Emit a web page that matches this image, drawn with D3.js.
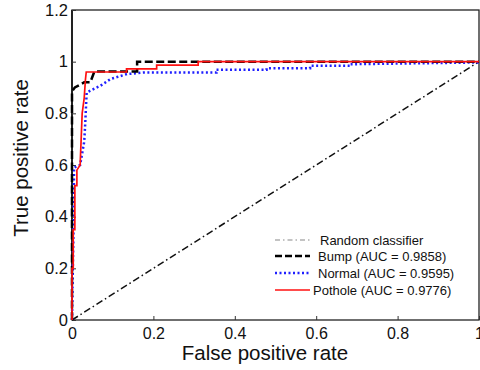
<!DOCTYPE html>
<html>
<head>
<meta charset="utf-8">
<script src="https://cdn.jsdelivr.net/npm/d3@7"></script>
<style>
  html, body { margin: 0; padding: 0; background: #fff; }
  svg { display: block; font-family: "Liberation Sans", Arial, sans-serif; }
</style>
</head>
<body>
<div id="chart"></div>
<script>
// ROC curves, values
const xTicks = [0, 0.2, 0.4, 0.6, 0.8, 1];
const yTicks = [0, 0.2, 0.4, 0.6, 0.8, 1, 1.2];

const randomFpr = [0, 1];
const randomTpr = [0, 1];

const bumpFpr = [0, 0, 0.007, 0.03, 0.045, 0.055, 0.16, 0.16, 1];
const bumpTpr = [0, 0.885, 0.9, 0.92, 0.92, 0.962, 0.962, 1, 1];

const normalFpr = [0, 0.002, 0.004, 0.005, 0.02, 0.03, 0.032, 0.036, 0.045, 0.07, 0.095, 0.135, 0.175, 0.355, 0.355, 0.478, 0.478, 0.585, 0.585, 0.683, 0.683, 1];
const normalTpr = [0, 0.2, 0.37, 0.59, 0.6, 0.69, 0.745, 0.88, 0.888, 0.907, 0.933, 0.952, 0.958, 0.958, 0.969, 0.969, 0.975, 0.975, 0.984, 0.984, 0.99, 0.997];

const potholeFpr = [0, 0, 0.003, 0.003, 0.007, 0.007, 0.012, 0.012, 0.02, 0.025, 0.03, 0.033, 0.035, 0.134, 0.134, 0.208, 0.208, 0.31, 0.31, 1];
const potholeTpr = [0, 0.2, 0.2, 0.35, 0.35, 0.52, 0.52, 0.58, 0.6, 0.8, 0.86, 0.93, 0.96, 0.96, 0.972, 0.972, 0.987, 0.987, 1, 1];

const seriesNames = ["Random classifier", "Bump (AUC = 0.9858)", "Normal (AUC = 0.9595)", "Pothole (AUC = 0.9776)"];

const W = 480, H = 370;
const margin = { left: 72, right: 1, top: 10, bottom: 50 };

const svg = d3.select("#chart").append("svg")
    .attr("width", W)
    .attr("height", H);

const x = d3.scaleLinear().domain([0, 1]).range([margin.left, W - margin.right]);
const y = d3.scaleLinear().domain([0, 1.2]).range([H - margin.bottom, margin.top]);

// Frame
svg.append("rect")
    .attr("x", x(0))
    .attr("y", y(1.2))
    .attr("width", x(1) - x(0))
    .attr("height", y(0) - y(1.2))
    .attr("fill", "none")
    .attr("stroke", "#222")
    .attr("stroke-width", 1.3);

// Left axis is a bit heavier in the original
svg.append("line")
    .attr("x1", x(0)).attr("x2", x(0))
    .attr("y1", y(0)).attr("y2", y(1.2))
    .attr("stroke", "#222")
    .attr("stroke-width", 2);

// Axes with inward ticks
const xAxis = svg.append("g")
    .attr("transform", `translate(0,${y(0)})`)
    .call(d3.axisBottom(x).tickValues(xTicks).tickSizeInner(-4).tickSizeOuter(0).tickPadding(8).tickFormat(d3.format("")));
xAxis.select(".domain").remove();
xAxis.selectAll("line").attr("stroke", "#333");
xAxis.selectAll("text")
    .style("font-size", "16px")
    .style("font-family", "Liberation Sans, Arial, sans-serif")
    .attr("fill", "#111");

const yAxis = svg.append("g")
    .attr("transform", `translate(${x(0)},0)`)
    .call(d3.axisLeft(y).tickValues(yTicks).tickSizeInner(-4).tickSizeOuter(0).tickPadding(4).tickFormat(d3.format("")));
yAxis.select(".domain").remove();
yAxis.selectAll("line").attr("stroke", "#333");
yAxis.selectAll("text")
    .style("font-size", "16.5px")
    .style("font-family", "Liberation Sans, Arial, sans-serif")
    .attr("fill", "#111");

// Axis titles
svg.append("text")
    .attr("x", 265)
    .attr("y", 360)
    .attr("text-anchor", "middle")
    .style("font-size", "20.5px")
    .attr("fill", "#111")
    .text("False positive rate");

svg.append("text")
    .attr("transform", "rotate(-90)")
    .attr("x", -158)
    .attr("y", 28)
    .attr("text-anchor", "middle")
    .style("font-size", "20.5px")
    .attr("fill", "#111")
    .text("True positive rate");

// Curves
const line = d3.line().x(d => x(d[0])).y(d => y(d[1]));
const zipPts = (a, b) => a.map((v, i) => [v, b[i]]);

const styles = [
    { fpr: randomFpr, tpr: randomTpr, color: "#111", width: 1.5, dash: "7,3,1.5,3" },
    { fpr: normalFpr, tpr: normalTpr, color: "#1f1fff", width: 2.5, dash: "2,2.5" },
    { fpr: bumpFpr, tpr: bumpTpr, color: "#000", width: 2.5, dash: "8,3.5" },
    { fpr: potholeFpr, tpr: potholeTpr, color: "#ff1010", width: 1.7, dash: null }
];

styles.forEach(s => {
    svg.append("path")
        .datum(zipPts(s.fpr, s.tpr))
        .attr("d", line)
        .attr("fill", "none")
        .attr("stroke", s.color)
        .attr("stroke-width", s.width)
        .attr("stroke-dasharray", s.dash);
});

// Legend
const legendItems = [
    { name: seriesNames[0], color: "#888", width: 1.2, dash: "5,3,1.5,3", tx: 320 },
    { name: seriesNames[1], color: "#000", width: 2.5, dash: "7,3", tx: 318 },
    { name: seriesNames[2], color: "#1f1fff", width: 2.3, dash: "2,2.5", tx: 318 },
    { name: seriesNames[3], color: "#ff1010", width: 1.5, dash: null, tx: 313 }
];
const legendY = [244, 260, 277, 294];

const legend = svg.append("g");
legend.selectAll("line")
    .data(legendItems)
    .join("line")
    .attr("x1", 275)
    .attr("x2", 310)
    .attr("y1", (d, i) => legendY[i] - 4)
    .attr("y2", (d, i) => legendY[i] - 4)
    .attr("stroke", d => d.color)
    .attr("stroke-width", d => d.width)
    .attr("stroke-dasharray", d => d.dash);

legend.selectAll("text")
    .data(legendItems)
    .join("text")
    .attr("x", d => d.tx)
    .attr("y", (d, i) => legendY[i] + 1)
    .style("font-size", "13px")
    .attr("fill", "#111")
    .text(d => d.name);
</script>
</body>
</html>
